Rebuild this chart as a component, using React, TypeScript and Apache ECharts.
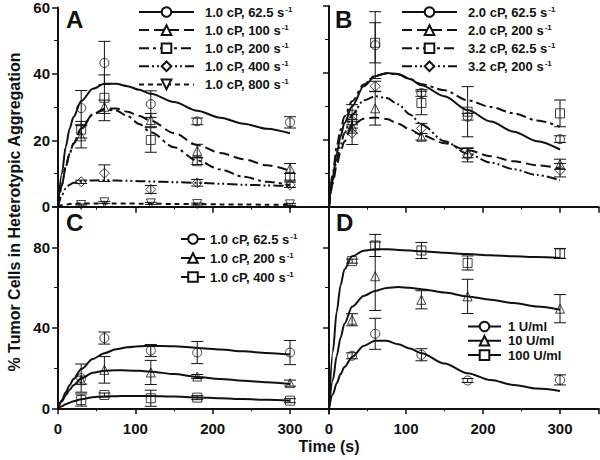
import React, { useEffect, useRef } from 'react';
import * as echarts from 'echarts';

// ---------- data ----------
const markerTimes = [30, 60, 120, 180, 300];
const fitTimes = [0, 5, 10, 15, 20, 30, 45, 60, 75, 90, 105, 120, 150, 180, 210, 240, 270, 300];
const xTicks = [0, 100, 200, 300];

// Panel A (1.0 cP, shear rates)
const a62Mean = [29.7, 43.3, 30.9, 25.7, 25.4];
const a62Err = [5.3, 6.5, 4.0, 1.0, 1.7];
const a62Fit = [0, 10, 18, 23.5, 27, 31.8, 35.5, 37, 37, 36.3, 35.2, 34.0, 31.5, 28.9, 26.8, 25.0, 23.5, 22.1];
const a100Mean = [21.2, 30.1, 26.1, 16.8, 11.5];
const a100Err = [3.5, 2.0, 2.0, 2.0, 1.5];
const a100Fit = [0, 6.5, 12, 16, 19, 23.6, 27.8, 29.5, 29.6, 28.6, 27.3, 25.9, 22.2, 18.6, 16.2, 14.3, 12.5, 10.8];
const a200Mean = [23.2, 32.8, 20.1, 13.7, 9.0];
const a200Err = [2.5, 6.9, 3.7, 1.0, 1.0];
const a200Fit = [0, 6.5, 12, 16, 19, 23.4, 27.8, 29.3, 29.0, 27.3, 24.9, 22.4, 17.9, 13.9, 11.2, 9.0, 7.5, 6.5];
const a400Mean = [7.5, 10.1, 5.2, 7.2, 6.6];
const a400Err = [0.5, 2.5, 1.2, 1.0, 0.8];
const a400Fit = [0, 3.5, 5.5, 6.6, 7.2, 7.7, 7.9, 8.0, 7.9, 7.8, 7.7, 7.6, 7.4, 7.2, 6.9, 6.6, 6.4, 6.2];
const a800Mean = [0.5, 1.3, 1.0, 0.8, 0.7];
const a800Err = [0.3, 0.3, 0.3, 0.3, 0.3];
const a800Fit = [0, 0.4, 0.6, 0.8, 0.9, 1.0, 1.0, 1.0, 1.0, 1.0, 0.9, 0.9, 0.8, 0.8, 0.7, 0.7, 0.6, 0.6];

// Panel B (2.0 / 3.2 cP)
const b2062Mean = [25.5, 48.3, 34.0, 26.9, 20.2];
const b2062Err = [2.0, 10.0, 1.0, 1.0, 1.0];
const b2062Fit = [0, 9, 16, 21, 25, 30, 36, 39, 40, 39.7, 38.2, 36.3, 33.0, 28.9, 25.5, 22.4, 19.6, 17.1];
const b20200Mean = [24.0, 29.4, 20.9, 16.1, 12.7];
const b20200Err = [2.0, 5.0, 1.0, 1.5, 1.5];
const b20200Fit = [0, 7, 12.5, 16.5, 19.5, 24.3, 26.3, 26.7, 26.2, 24.8, 23.1, 21.4, 19.0, 16.9, 15.1, 13.6, 12.4, 11.4];
const b3262Mean = [27.5, 49.0, 31.0, 28.4, 27.9];
const b3262Err = [3.0, 6.0, 3.5, 7.5, 4.0];
const b3262Fit = [0, 10, 18, 23, 27, 31.5, 36.5, 39.2, 39.8, 39.5, 38.2, 36.6, 34.8, 31.8, 29.8, 27.9, 25.8, 23.9];
const b32200Mean = [22.0, 36.0, 23.4, 15.4, 10.9];
const b32200Err = [3.4, 1.5, 1.5, 2.0, 2.0];
const b32200Fit = [0, 8, 14, 18.5, 22, 27.5, 31.8, 33.0, 32.5, 30.6, 27.6, 24.6, 19.6, 15.9, 13.2, 11.2, 9.5, 7.9];

// Panel C (1.0 cP)
const c62Mean = [15.0, 34.9, 28.7, 27.7, 27.7];
const c62Err = [7.0, 3.0, 3.0, 5.5, 6.0];
const c62Fit = [0, 4, 8, 11.5, 14.5, 19.5, 24.5, 27.4, 29.3, 30.3, 30.8, 31.0, 30.8, 30.0, 29.2, 28.3, 27.5, 26.7];
const c200Mean = [14.0, 19.1, 17.8, 15.8, 12.5];
const c200Err = [2.0, 6.6, 6.0, 1.0, 1.5];
const c200Fit = [0, 3.5, 6.5, 9.2, 11.5, 14.8, 17.7, 18.7, 18.9, 18.8, 18.6, 18.2, 17.0, 15.6, 14.6, 13.7, 12.9, 12.1];
const c400Mean = [4.1, 6.6, 5.0, 5.3, 3.8];
const c400Err = [3.0, 1.0, 4.0, 1.0, 1.0];
const c400Fit = [0, 1, 2, 2.8, 3.5, 4.5, 5.5, 5.9, 6.0, 6.1, 6.1, 6.1, 5.8, 5.4, 5.0, 4.6, 4.2, 3.8];

// Panel D (U/ml)
const d1Mean = [26.1, 37.0, 26.6, 13.8, 14.1];
const d1Err = [1.5, 7.7, 3.0, 1.0, 2.5];
const d1Fit = [0, 7, 12.5, 17, 20.5, 25.5, 31.0, 33.6, 33.5, 31.8, 29.7, 27.4, 22.2, 17.4, 14.0, 11.6, 9.8, 8.6];
const d10Mean = [44.0, 65.6, 53.9, 55.6, 49.5];
const d10Err = [3.0, 17.0, 4.5, 8.5, 7.0];
const d10Fit = [0, 14, 26, 35, 42, 50.5, 55.8, 58.3, 59.8, 60.2, 59.9, 59.2, 57.5, 55.6, 53.9, 52.3, 50.6, 49.0];
const d100Mean = [73.1, 80.9, 78.4, 72.2, 76.9];
const d100Err = [1.0, 5.5, 4.0, 3.5, 2.5];
const d100Fit = [0, 28, 48, 61, 69, 75.5, 78.3, 79, 79, 78.7, 78.4, 78.0, 77.3, 76.6, 76.0, 75.5, 75.1, 74.7];

const legendLabels: Record<string, [string, string]> = {
  a62: ['1.0 cP, 62.5 s', '-1'],
  a100: ['1.0 cP, 100 s', '-1'],
  a200: ['1.0 cP, 200 s', '-1'],
  a400: ['1.0 cP, 400 s', '-1'],
  a800: ['1.0 cP, 800 s', '-1'],
  b2062: ['2.0 cP, 62.5 s', '-1'],
  b20200: ['2.0 cP, 200 s', '-1'],
  b3262: ['3.2 cP, 62.5 s', '-1'],
  b32200: ['3.2 cP, 200 s', '-1'],
  c62: ['1.0 cP, 62.5 s', '-1'],
  c200: ['1.0 cP, 200 s', '-1'],
  c400: ['1.0 cP, 400 s', '-1'],
  d1: ['1 U/ml', ''],
  d10: ['10 U/ml', ''],
  d100: ['100 U/ml', ''],
};

// ---------- styling ----------
const FONT = 'Liberation Sans, Arial, sans-serif';
const INK = '#111';
const SOLID: any = 'solid';
const DASH: any = [10, 5];
const DASHDOT: any = [10, 4, 3, 4];
const DASHDOTDOT: any = [10, 3, 2, 3, 2, 3];
const SHORTDASH: any = [5, 4];
const DIAMOND = 'path://M5,0 L10,5 L5,10 L0,5 Z';

const errRender = (params: any, api: any) => {
  const x = api.value(0);
  const y = api.value(1);
  const e = api.value(2);
  const p = api.coord([x, y]);
  const t = api.coord([x, y + e]);
  const b = api.coord([x, Math.max(0, y - e)]);
  const st = { stroke: INK, lineWidth: 1 };
  return {
    type: 'group',
    children: [
      { type: 'line', shape: { x1: p[0], y1: t[1], x2: p[0], y2: b[1] }, style: st },
      { type: 'line', shape: { x1: p[0] - 6, y1: t[1], x2: p[0] + 6, y2: t[1] }, style: st },
      { type: 'line', shape: { x1: p[0] - 6, y1: b[1], x2: p[0] + 6, y2: b[1] }, style: st },
    ],
  };
};

function makeSet(id: string, grid: number, fit: number[], mean: number[], err: number[], symbol: string, rotate: number, lineType: any) {
  return [
    {
      name: id, type: 'line', xAxisIndex: grid, yAxisIndex: grid,
      data: fitTimes.map((t, i) => [t, fit[i]]),
      smooth: 0.3, smoothMonotone: 'x', showSymbol: false, symbol, symbolRotate: rotate, symbolSize: 9,
      lineStyle: { color: INK, width: 2, type: lineType },
      itemStyle: { color: '#fff', borderColor: INK, borderWidth: 1 },
      z: 3, silent: true,
    },
    {
      name: id + '_m', type: 'scatter', xAxisIndex: grid, yAxisIndex: grid,
      data: markerTimes.map((t, i) => [t, mean[i]]),
      symbol, symbolRotate: rotate, symbolSize: symbol === DIAMOND ? 10 : 9,
      itemStyle: { color: 'rgba(0,0,0,0)', borderColor: INK, borderWidth: 1 },
      z: 4, silent: true,
    },
    {
      name: id + '_e', type: 'custom', xAxisIndex: grid, yAxisIndex: grid,
      data: markerTimes.map((t, i) => [t, mean[i], err[i]]),
      encode: { x: 0, y: 1 },
      renderItem: errRender, z: 4, silent: true,
    },
  ];
}

const legendFormatter = (name: string) => {
  const [main, sup] = legendLabels[name];
  return sup ? `{t|${main}}{s|${sup}}` : `{t|${main}}`;
};

function makeLegend(ids: string[], left: number, top: number, itemWidth: number, itemGap: number, pad: number) {
  return {
    data: ids, left, top, orient: 'vertical', itemWidth, itemHeight: 12, itemGap,
    selectedMode: false, padding: 0,
    formatter: legendFormatter,
    textStyle: {
      color: INK,
      rich: {
        t: { fontFamily: FONT, fontWeight: 'bold', fontSize: 13, color: INK, lineHeight: 14, padding: [0, 0, 0, pad] },
        s: { fontFamily: FONT, fontWeight: 'bold', fontSize: 8, color: INK, lineHeight: 14, verticalAlign: 'top', padding: [0, 0, 0, 1] },
      },
    },
  };
}

const grids = [
  { left: 58, top: 6, width: 270.7, height: 200.7 },
  { left: 329, top: 6, width: 269.5, height: 200.7 },
  { left: 58, top: 207, width: 270.7, height: 201.3 },
  { left: 329, top: 207, width: 269.5, height: 201.3 },
];

function xAxis(i: number, labels: boolean) {
  return {
    type: 'value', gridIndex: i, min: 0, max: 350, interval: 100,
    axisLine: { show: true, onZero: false, lineStyle: { color: INK, width: 2 } },
    axisTick: { show: true, length: 6, lineStyle: { color: INK, width: 1.5 } },
    minorTick: { show: true, splitNumber: 2, length: 3, lineStyle: { color: INK, width: 1 } },
    splitLine: { show: false },
    axisLabel: {
      show: labels, margin: 13, fontFamily: FONT, fontWeight: 'bold', fontSize: 15, color: INK,
      showMaxLabel: false,
      formatter: (v: number) => (xTicks.indexOf(v) >= 0 ? String(v) : ''),
    },
  };
}

function yAxis(i: number, max: number, interval: number, labels: boolean, showMax: boolean) {
  return {
    type: 'value', gridIndex: i, min: 0, max, interval,
    axisLine: { show: true, onZero: false, lineStyle: { color: INK, width: 2 } },
    axisTick: { show: true, length: 6, lineStyle: { color: INK, width: 1.5 } },
    minorTick: { show: true, splitNumber: 2, length: 4, lineStyle: { color: INK, width: 1 } },
    splitLine: { show: false },
    axisLabel: {
      show: labels, margin: 8, fontFamily: FONT, fontWeight: 'bold', fontSize: 15, color: INK,
      showMaxLabel: showMax,
      formatter: (v: number) => (v % interval === 0 ? String(v) : ''),
    },
  };
}

export default function App() {
  const ref = useRef<HTMLDivElement>(null);
  useEffect(() => {
    if (!ref.current) return;
    const chart = echarts.init(ref.current, null, { renderer: 'svg' });
    const series = [
      ...makeSet('a62', 0, a62Fit, a62Mean, a62Err, 'circle', 0, SOLID),
      ...makeSet('a100', 0, a100Fit, a100Mean, a100Err, 'triangle', 0, DASH),
      ...makeSet('a200', 0, a200Fit, a200Mean, a200Err, 'rect', 0, DASHDOT),
      ...makeSet('a400', 0, a400Fit, a400Mean, a400Err, DIAMOND, 0, DASHDOTDOT),
      ...makeSet('a800', 0, a800Fit, a800Mean, a800Err, 'triangle', 180, SHORTDASH),
      ...makeSet('b2062', 1, b2062Fit, b2062Mean, b2062Err, 'circle', 0, SOLID),
      ...makeSet('b20200', 1, b20200Fit, b20200Mean, b20200Err, 'triangle', 0, DASH),
      ...makeSet('b3262', 1, b3262Fit, b3262Mean, b3262Err, 'rect', 0, DASHDOT),
      ...makeSet('b32200', 1, b32200Fit, b32200Mean, b32200Err, DIAMOND, 0, DASHDOTDOT),
      ...makeSet('c62', 2, c62Fit, c62Mean, c62Err, 'circle', 0, SOLID),
      ...makeSet('c200', 2, c200Fit, c200Mean, c200Err, 'triangle', 0, SOLID),
      ...makeSet('c400', 2, c400Fit, c400Mean, c400Err, 'rect', 0, SOLID),
      ...makeSet('d1', 3, d1Fit, d1Mean, d1Err, 'circle', 0, SOLID),
      ...makeSet('d10', 3, d10Fit, d10Mean, d10Err, 'triangle', 0, SOLID),
      ...makeSet('d100', 3, d100Fit, d100Mean, d100Err, 'rect', 0, SOLID),
    ];
    const letter = (txt: string, x: number, y: number) => ({
      type: 'text', x, y,
      style: { text: txt, fontFamily: FONT, fontWeight: 'bold', fontSize: 24, fill: INK, textVerticalAlign: 'top' },
    });
    chart.setOption({
      animation: false,
      backgroundColor: '#fff',
      grid: grids,
      xAxis: [xAxis(0, false), xAxis(1, false), xAxis(2, true), xAxis(3, true)],
      yAxis: [yAxis(0, 60, 20, true, true), yAxis(1, 60, 20, false, true), yAxis(2, 100, 40, true, false), yAxis(3, 100, 40, false, false)],
      legend: [
        makeLegend(['a62', 'a100', 'a200', 'a400', 'a800'], 138, 5, 55, 4.6, 6),
        makeLegend(['b2062', 'b20200', 'b3262', 'b32200'], 401, 5, 55, 4.6, 6),
        makeLegend(['c62', 'c200', 'c400'], 180, 232, 24, 5.5, 0),
        makeLegend(['d1', 'd10', 'd100'], 467, 320, 33, 1.3, 2),
      ],
      series,
      graphic: [
        letter('A', 66, 7),
        letter('B', 335, 7),
        letter('C', 66, 210),
        letter('D', 336, 210),
        {
          type: 'text', x: 14, y: 212, rotation: Math.PI / 2,
          style: {
            text: '% Tumor Cells in Heterotypic Aggregation', fontFamily: FONT, fontWeight: 'bold', fontSize: 16,
            fill: INK, textAlign: 'center', textVerticalAlign: 'middle',
          },
        },
        {
          type: 'text', x: 329, y: 446,
          style: { text: 'Time (s)', fontFamily: FONT, fontWeight: 'bold', fontSize: 16, fill: INK, textAlign: 'center', textVerticalAlign: 'middle' },
        },
      ],
    });
    return () => chart.dispose();
  }, []);
  return <div ref={ref} style={{ position: 'absolute', left: 0, top: 0, width: 600, height: 460 }} />;
}
